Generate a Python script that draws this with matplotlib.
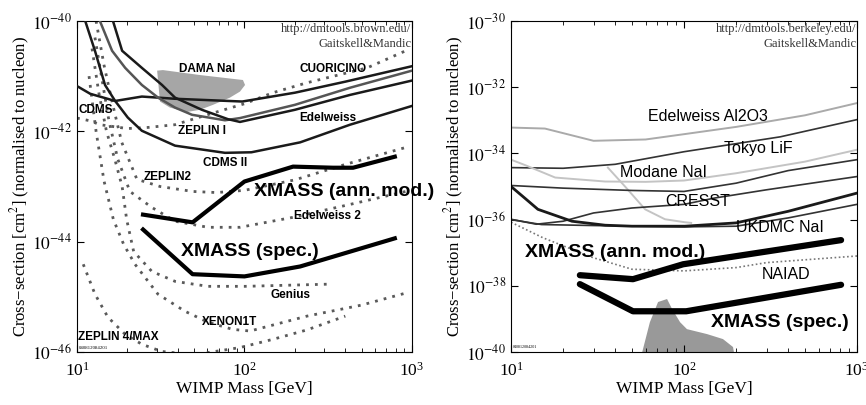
#!/usr/bin/env python3
"""
Two-panel WIMP cross-section limit plot (spin-independent / spin-dependent)
with the XMASS sensitivity curves drawn on top.
"""

import numpy as np
import matplotlib
matplotlib.use('Agg')
import matplotlib.pyplot as plt
from matplotlib.ticker import FixedLocator, FuncFormatter, NullLocator, LogLocator

plt.rcParams['font.family'] = ['Liberation Serif', 'DejaVu Serif']
plt.rcParams['mathtext.fontset'] = 'stix'

SANS = ['Liberation Sans', 'DejaVu Sans']

# ---------------- left panel data (mass in GeV, log10 cross-section) ----------------
cdms_m = [10, 12, 16.9, 24.4, 38.5, 97, 200, 400, 1000]
cdms_s = [-41.18, -41.32, -41.45, -41.37, -41.41, -41.46, -41.30, -41.10, -40.82]

cdms2_m = [11.2, 12.8, 14.7, 16.9, 20.1, 24.4, 38.5, 76.5, 110, 215, 427, 1000]
cdms2_s = [-40.0, -40.54, -41.16, -41.45, -41.75, -41.99, -42.26, -42.39, -42.38, -42.2, -41.88, -41.54]

zeplin1_m = [13.7, 16.2, 19.4, 24.4, 30.5, 38.5, 48.6, 76.5, 94, 200, 427, 1000]
zeplin1_s = [-40.0, -40.54, -40.85, -41.16, -41.39, -41.57, -41.70, -41.80, -41.76, -41.52, -41.21, -40.90]

edelweiss_m = [16.4, 18.6, 24.4, 32.2, 38.5, 55.7, 79.7, 94, 200, 427, 1000]
edelweiss_s = [-40.0, -40.54, -40.85, -41.16, -41.39, -41.61, -41.78, -41.83, -41.61, -41.34, -41.08]

cuoricino_m = [10, 12, 13.7, 20, 26.5, 38.5, 60, 100, 148, 236, 540, 950]
cuoricino_s = [-41.76, -41.81, -41.88, -41.95, -41.93, -41.88, -41.70, -41.50, -41.30, -41.12, -40.85, -40.52]

zeplin2_m = [13, 14.5, 16.3, 18.5, 22.8, 31.3, 49, 68, 100, 200, 400, 950]
zeplin2_s = [-40.0, -40.8, -41.5, -42.2, -42.87, -43.0, -43.09, -43.11, -43.07, -42.88, -42.6, -42.28]

edelweiss2_m = [12.8, 14, 15.5, 17.5, 20.7, 28, 38.5, 60.5, 94, 194, 420, 950]
edelweiss2_s = [-40.3, -41.0, -41.8, -42.5, -43.09, -43.38, -43.63, -43.74, -43.74, -43.56, -43.33, -43.08]

genius_m = [12.3, 13.5, 15, 16.8, 18.6, 19.8, 21.8, 28, 38.5, 60.5, 101, 324]
genius_s = [-40.5, -41.3, -42.0, -42.5, -43.0, -43.6, -44.18, -44.54, -44.72, -44.81, -44.81, -44.77]

xenon1t_m = [11.8, 13, 14.5, 16.5, 19, 22.2, 30.4, 44, 60.5, 85, 108, 236, 500, 950]
xenon1t_s = [-41.0, -42.0, -42.9, -43.6, -44.05, -44.41, -44.95, -45.26, -45.46, -45.59, -45.62, -45.35, -45.15, -44.92]

zeplin4_m = [10.9, 12.8, 15.3, 19.4, 24.4, 32, 50, 94, 148, 236, 400]
zeplin4_s = [-44.41, -44.95, -45.37, -45.68, -45.86, -45.99, -46.05, -45.92, -45.77, -45.6, -45.35]

dama_m = [30.1, 32.6, 54.2, 97.9, 100.8, 94, 81.8, 64.9, 54.2, 45.4, 35.9, 31.3]
dama_s = [-40.90, -40.89, -40.98, -41.07, -41.16, -41.28, -41.39, -41.52, -41.61, -41.65, -41.57, -41.46]

xmass_ann_l_m = [24.8, 49, 100, 195, 338, 445, 790]
xmass_ann_l_s = [-43.51, -43.65, -42.91, -42.64, -42.66, -42.66, -42.46]

xmass_spec_l_m = [24.8, 49, 100, 215, 790]
xmass_spec_l_s = [-43.78, -44.59, -44.63, -44.45, -43.94]

# ---------------- right panel data ----------------
al2o3_m = [10, 15.7, 30, 60, 100, 200, 500, 1000]
al2o3_s = [-33.22, -33.25, -33.62, -33.58, -33.42, -33.2, -32.85, -32.48]

tokyo_m = [10, 20, 40, 100, 360, 1000]
tokyo_s = [-34.43, -34.45, -34.33, -33.95, -33.5, -32.98]

modane_m = [10, 12, 18, 35, 60, 100, 200, 500, 1000]
modane_s = [-34.19, -34.35, -34.73, -34.85, -34.86, -34.82, -34.6, -34.25, -33.89]

modane2_m = [36.3, 45.6, 59.6, 77.6, 101, 110]
modane2_s = [-34.43, -35.0, -35.69, -35.99, -36.08, -36.1]

darkb_m = [10, 20, 50, 100, 200, 400, 1000]
darkb_s = [-34.97, -35.05, -35.12, -35.15, -34.9, -34.52, -34.19]

ukdmc_m = [10, 12, 14.3, 22.5, 35, 50, 101, 200, 400, 1000]
ukdmc_s = [-35.0, -35.35, -35.69, -36.05, -36.17, -36.2, -36.2, -36.1, -35.75, -35.2]

darke_m = [10, 15, 30, 100, 200, 400, 1000]
darke_s = [-36.0, -36.15, -36.18, -36.22, -36.2, -35.95, -35.54]

cresst_m = [10, 14, 20, 30, 50, 100, 150, 300, 1000]
cresst_s = [-35.99, -36.14, -36.05, -35.8, -35.65, -35.54, -35.35, -35.1, -34.70]

naiad_m = [10, 15.3, 29.8, 50, 100, 200, 300, 1000]
naiad_s = [-36.08, -36.55, -37.15, -37.5, -37.55, -37.45, -37.3, -37.1]

region_m = [54.2, 63.5, 70.8, 79.8, 85.3, 94.9, 104, 136, 168, 192, 202]
region_s = [-40.5, -39.10, -38.49, -38.40, -38.70, -39.10, -39.31, -39.46, -39.61, -39.85, -40.5]

xmass_ann_r_m = [25, 50.7, 98.8, 809]
xmass_ann_r_s = [-37.68, -37.80, -37.35, -36.62]

xmass_spec_r_m = [25, 50.7, 103, 809]
xmass_spec_r_s = [-37.95, -38.77, -38.77, -37.97]

left_yticks = [-46, -44, -42, -40]
right_yticks = [-40, -38, -36, -34, -32, -30]


def pw(s):
    return 10.0 ** np.asarray(s)


def setup_axes(ax, ylo, yhi, yticks):
    ax.set_xscale('log')
    ax.set_yscale('log')
    ax.set_xlim(10, 1000)
    ax.set_ylim(10.0 ** ylo, 10.0 ** yhi)
    ax.yaxis.set_major_locator(FixedLocator([10.0 ** t for t in yticks]))
    ax.yaxis.set_major_formatter(FuncFormatter(lambda v, p: r'$10^{%d}$' % round(np.log10(v))))
    ax.yaxis.set_minor_locator(NullLocator())
    ax.xaxis.set_minor_locator(LogLocator(base=10, subs=np.arange(2, 10)))
    ax.tick_params(which='both', direction='in', top=True, right=True, labelsize=12.5)
    ax.tick_params(which='major', length=5)
    ax.tick_params(which='minor', length=3)
    ax.tick_params(axis='x', pad=7)
    ax.set_xlabel('WIMP Mass [GeV]', fontsize=12.5, labelpad=1)
    ax.set_ylabel('Cross\u2212section [cm$^2$] (normalised to nucleon)', fontsize=12, labelpad=0)


def sans(ax, x, s, txt, size=8.5, bold=True, ha='center', **kw):
    ax.text(x, 10.0 ** s, txt, fontsize=size, family=SANS,
            fontweight='bold' if bold else 'normal', ha=ha, va='center', **kw)


fig = plt.figure(figsize=(8.66, 4.05), dpi=100)
axl = fig.add_axes([0.0889, 0.1309, 0.3868, 0.8173])
axr = fig.add_axes([0.5901, 0.1309, 0.3995, 0.8173])

# ---------------- left panel ----------------
setup_axes(axl, -46, -40, left_yticks)
dot = (0, (1, 2.2))
axl.fill(dama_m, pw(dama_s), color='#a6a6a6', lw=0, zorder=1)
for m, s in [(cuoricino_m, cuoricino_s), (zeplin2_m, zeplin2_s), (edelweiss2_m, edelweiss2_s),
             (genius_m, genius_s), (xenon1t_m, xenon1t_s), (zeplin4_m, zeplin4_s)]:
    axl.plot(m, pw(s), color='#5a5a5a', lw=2, linestyle=dot, zorder=2)
axl.plot(cdms_m, pw(cdms_s), color='#1a1a1a', lw=1.8, zorder=3)
axl.plot(cdms2_m, pw(cdms2_s), color='#1a1a1a', lw=1.8, zorder=3)
axl.plot(zeplin1_m, pw(zeplin1_s), color='#555555', lw=1.8, zorder=3)
axl.plot(edelweiss_m, pw(edelweiss_s), color='#1a1a1a', lw=1.8, zorder=3)
axl.plot(xmass_ann_l_m, pw(xmass_ann_l_s), color='black', lw=3, zorder=4)
axl.plot(xmass_spec_l_m, pw(xmass_spec_l_s), color='black', lw=3, zorder=4)

sans(axl, 59.7, -40.87, 'DAMA NaI')
sans(axl, 337, -40.87, 'CUORICINO')
sans(axl, 12.9, -41.61, 'CDMS')
sans(axl, 55.7, -42.0, 'ZEPLIN I')
sans(axl, 315, -41.75, 'Edelweiss')
sans(axl, 76.6, -42.57, 'CDMS II')
sans(axl, 34.9, -42.82, 'ZEPLIN2')
sans(axl, 311, -43.54, 'Edelweiss 2')
sans(axl, 187, -44.97, 'Genius')
sans(axl, 81.8, -45.46, 'XENON1T')
sans(axl, 10.2, -45.73, 'ZEPLIN 4/MAX', ha='left')
sans(axl, 395, -43.09, 'XMASS (ann. mod.)', size=14)
sans(axl, 108, -44.18, 'XMASS (spec.)', size=14)
axl.text(10.2, 10.0 ** -45.92, '040812084201', fontsize=3.5, va='center')
axl.text(0.998, 0.975, 'http://dmtools.brown.edu/', transform=axl.transAxes,
         ha='right', va='center', fontsize=9, color='#333333')
axl.text(0.998, 0.93, 'Gaitskell&Mandic', transform=axl.transAxes,
         ha='right', va='center', fontsize=9, color='#333333')

# ---------------- right panel ----------------
setup_axes(axr, -40, -30, right_yticks)
axr.fill(region_m, pw(region_s), color='#999999', lw=0, zorder=1)
axr.plot(al2o3_m, pw(al2o3_s), color='#aaaaaa', lw=1.4, zorder=2)
axr.plot(tokyo_m, pw(tokyo_s), color='#333333', lw=1.2, zorder=2)
axr.plot(modane_m, pw(modane_s), color='#c4c4c4', lw=1.4, zorder=2)
axr.plot(modane2_m, pw(modane2_s), color='#c4c4c4', lw=1.4, zorder=2)
axr.plot(darkb_m, pw(darkb_s), color='#333333', lw=1.2, zorder=2)
axr.plot(cresst_m, pw(cresst_s), color='#333333', lw=1.2, zorder=2)
axr.plot(darke_m, pw(darke_s), color='#333333', lw=1.2, zorder=2)
axr.plot(ukdmc_m, pw(ukdmc_s), color='#1a1a1a', lw=2, zorder=2)
axr.plot(naiad_m, pw(naiad_s), color='#777777', lw=1.2, linestyle=(0, (1, 1.5)), zorder=2)
axr.plot(xmass_ann_r_m, pw(xmass_ann_r_s), color='black', lw=4.5, solid_capstyle='round', zorder=4)
axr.plot(xmass_spec_r_m, pw(xmass_spec_r_s), color='black', lw=4.5, solid_capstyle='round', zorder=4)

sans(axr, 138, -32.89, 'Edelweiss Al2O3', size=11.5, bold=False)
sans(axr, 268, -33.86, 'Tokyo LiF', size=11.5, bold=False)
sans(axr, 75.7, -34.58, 'Modane NaI', size=11.5, bold=False)
sans(axr, 120, -35.45, 'CRESST', size=11.5, bold=False)
sans(axr, 359, -36.23, 'UKDMC NaI', size=11.5, bold=False)
sans(axr, 389, -37.65, 'NAIAD', size=11.5, bold=False)
sans(axr, 39.9, -36.99, 'XMASS (ann. mod.)', size=14)
sans(axr, 359, -39.10, 'XMASS (spec.)', size=14)
axr.text(10.2, 10.0 ** -39.85, '040812084201', fontsize=3, va='center')
axr.text(0.998, 0.975, 'http://dmtools.berkeley.edu/', transform=axr.transAxes,
         ha='right', va='center', fontsize=9, color='#333333')
axr.text(0.998, 0.93, 'Gaitskell&Mandic', transform=axr.transAxes,
         ha='right', va='center', fontsize=9, color='#333333')

fig.savefig('out.png', dpi=100)
